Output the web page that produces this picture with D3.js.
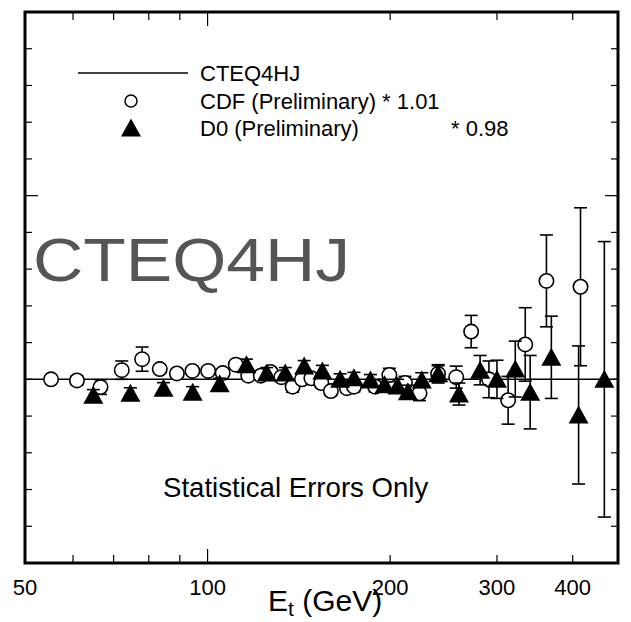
<!DOCTYPE html>
<html>
<head>
<meta charset="utf-8">
<script src="https://cdn.jsdelivr.net/npm/d3@7"></script>
<style>
  body { margin: 0; background: #fff; }
  text { font-family: "Liberation Sans", Arial, sans-serif; }
</style>
</head>
<body>
<div id="chart"></div>
<script>
// CDF open circles
const cdfEt  = [55.2, 60.9, 66.6, 72.2, 78.0, 83.4, 89.0, 94.4, 100.2, 105.9, 111.3, 116.7, 122.4, 127.0, 132.3, 138.1, 143.1, 148.3, 154.0, 159.7, 169.7, 174.3, 188.9, 199.4, 211.6, 223.6, 239.9, 257, 272, 291, 313, 334, 362, 412];
const cdfVal = [0, -0.003, -0.021, 0.025, 0.055, 0.028, 0.016, 0.023, 0.023, 0.017, 0.04, 0.01, 0.01, 0.02, 0.006, -0.02, 0, 0.003, -0.01, -0.032, -0.024, -0.02, -0.02, 0.012, -0.01, -0.038, 0.015, 0.006, 0.13, 0, -0.057, 0.095, 0.268, 0.252];
const cdfErr = [0.005, 0.012, 0.02, 0.025, 0.033, 0.01, 0.01, 0.01, 0.01, 0.01, 0.01, 0.01, 0.01, 0.012, 0.012, 0.015, 0.012, 0.012, 0.012, 0.012, 0.012, 0.014, 0.014, 0.018, 0.018, 0.02, 0.022, 0.03, 0.044, 0.05, 0.065, 0.1, 0.125, 0.215];

// D0 filled triangles
const d0Et  = [64.8, 74.6, 84.6, 94.5, 104.7, 115.9, 125.2, 134.3, 144.3, 154.6, 165.4, 174.3, 185.6, 195.8, 205.7, 213.9, 225.5, 240, 259.7, 281.4, 300, 321.6, 340.3, 368.8, 409, 451];
const d0Val = [-0.043, -0.038, -0.024, -0.035, -0.012, 0.04, 0.017, 0.017, 0.036, 0.023, 0, 0.004, -0.002, -0.015, -0.018, -0.034, -0.002, 0.015, -0.04, 0.025, 0, 0.028, -0.035, 0.06, -0.097, 0];
const d0Err = [0.015, 0.015, 0.015, 0.015, 0.015, 0.015, 0.015, 0.015, 0.015, 0.015, 0.015, 0.015, 0.015, 0.015, 0.018, 0.018, 0.02, 0.025, 0.03, 0.04, 0.052, 0.076, 0.1, 0.112, 0.188, 0.375];

const xTickLabels = [50, 100, 200, 300, 400];
const xTicks = [60, 70, 80, 90, 100, 200, 300, 400];
const yTicks = [-0.4, -0.3, -0.2, -0.1, 0, 0.1, 0.2, 0.3, 0.4, 0.5, 0.6, 0.7, 0.8, 0.9];

const width = 631, height = 622;
const margin = { l: 25, r: 13, t: 12, b: 59 };

const svg = d3.select("#chart").append("svg")
  .attr("width", width)
  .attr("height", height);

const x = d3.scaleLog()
  .domain([50, 475])
  .range([margin.l, width - margin.r]);

const y = d3.scaleLinear()
  .domain([-0.5, 1.0])
  .range([height - margin.b, margin.t]);

const cdf = cdfEt.map((e, i) => ({ e: e, v: cdfVal[i], err: cdfErr[i] }));
const d0 = d0Et.map((e, i) => ({ e: e, v: d0Val[i], err: d0Err[i] }));

// ticks
const x0 = margin.l, x1 = width - margin.r, y0 = height - margin.b, y1 = margin.t;
const tk = svg.append("g").attr("stroke", "#000").attr("stroke-width", 1.2);
xTicks.forEach(t => {
  let len = t === 100 ? 14 : 8;
  tk.append("line").attr("x1", x(t)).attr("x2", x(t)).attr("y1", y0).attr("y2", y0 - len);
  tk.append("line").attr("x1", x(t)).attr("x2", x(t)).attr("y1", y1).attr("y2", y1 + len);
});
yTicks.forEach(t => {
  let len = t === 0.5 ? 13 : 7;
  tk.append("line").attr("x1", x0).attr("x2", x0 + len).attr("y1", y(t)).attr("y2", y(t));
  tk.append("line").attr("x1", x1).attr("x2", x1 - len).attr("y1", y(t)).attr("y2", y(t));
});

// theory line
svg.append("line")
  .attr("x1", x0).attr("x2", x1)
  .attr("y1", y(0)).attr("y2", y(0))
  .attr("stroke", "#000").attr("stroke-width", 1.5);

// big label
svg.append("text")
  .attr("x", 33).attr("y", 281)
  .attr("font-size", 62)
  .attr("fill", "#555")
  .attr("textLength", 317)
  .attr("lengthAdjust", "spacingAndGlyphs")
  .text("CTEQ4HJ");

svg.append("text")
  .attr("x", 163).attr("y", 497)
  .attr("font-size", 27.6)
  .text("Statistical Errors Only");

function errBars(g, data) {
  let eb = g.selectAll("g.eb").data(data).enter().append("g")
    .attr("stroke", "#000").attr("stroke-width", 1.6);
  eb.append("line")
    .attr("x1", d => x(d.e)).attr("x2", d => x(d.e))
    .attr("y1", d => y(d.v + d.err)).attr("y2", d => y(d.v - d.err));
  eb.append("line")
    .attr("x1", d => x(d.e) - 6.5).attr("x2", d => x(d.e) + 6.5)
    .attr("y1", d => y(d.v + d.err)).attr("y2", d => y(d.v + d.err));
  eb.append("line")
    .attr("x1", d => x(d.e) - 6.5).attr("x2", d => x(d.e) + 6.5)
    .attr("y1", d => y(d.v - d.err)).attr("y2", d => y(d.v - d.err));
}

const tri = "M0,-9.5L10,8.5L-10,8.5Z";

const gc = svg.append("g");
errBars(gc, cdf);
gc.selectAll("circle").data(cdf).enter().append("circle")
  .attr("cx", d => x(d.e)).attr("cy", d => y(d.v))
  .attr("r", 7.2)
  .attr("fill", "#fff").attr("stroke", "#000").attr("stroke-width", 1.6);

const gd = svg.append("g");
errBars(gd, d0);
gd.selectAll("path").data(d0).enter().append("path")
  .attr("d", tri)
  .attr("transform", d => "translate(" + x(d.e) + "," + y(d.v) + ")")
  .attr("fill", "#000");

// frame
svg.append("rect")
  .attr("x", x0).attr("y", y1)
  .attr("width", x1 - x0).attr("height", y0 - y1)
  .attr("fill", "none").attr("stroke", "#000").attr("stroke-width", 3);

// legend
const lg = svg.append("g").attr("font-size", 22);
lg.append("line").attr("x1", 78).attr("x2", 188).attr("y1", 73).attr("y2", 73)
  .attr("stroke", "#000").attr("stroke-width", 1.5);
lg.append("text").attr("x", 200).attr("y", 81).text("CTEQ4HJ");
lg.append("circle").attr("cx", 131).attr("cy", 101).attr("r", 6)
  .attr("fill", "#fff").attr("stroke", "#000").attr("stroke-width", 1.5);
lg.append("text").attr("x", 200).attr("y", 109).text("CDF (Preliminary) * 1.01");
lg.append("path").attr("d", tri).attr("transform", "translate(131,128)").attr("fill", "#000");
lg.append("text").attr("x", 200).attr("y", 136).text("D0 (Preliminary)");
lg.append("text").attr("x", 451).attr("y", 136).text("* 0.98");

// x tick labels
svg.append("g").attr("font-size", 22).attr("text-anchor", "middle")
  .selectAll("text").data(xTickLabels).enter().append("text")
  .attr("x", d => x(d)).attr("y", 595)
  .text(d => d);

const xl = svg.append("text")
  .attr("x", 268).attr("y", 611)
  .attr("font-size", 30);
xl.append("tspan").text("E");
xl.append("tspan").attr("font-size", 21).attr("dy", 5).text("t");
xl.append("tspan").attr("dy", -5).text(" (GeV)");
</script>
</body>
</html>
